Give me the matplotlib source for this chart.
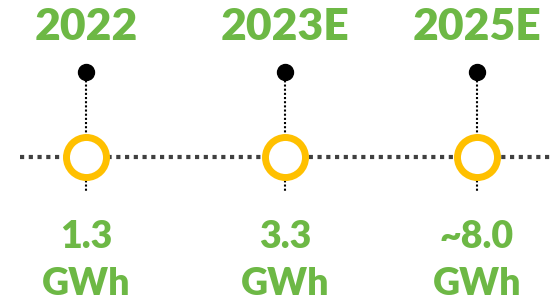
import matplotlib.pyplot as plt

# --- data ---
years = ["2022", "2023E", "2025E"]
values = ["1.3", "3.3", "~8.0"]
unit = "GWh"

green = "#6DB845"
orange = "#FFC000"

fig = plt.figure(figsize=(5.52, 3.03), dpi=100)
ax = fig.add_axes([0, 0, 1, 1])
ax.set_xlim(-0.44, 2.384)
ax.set_ylim(303, 0)
ax.axis("off")

# column layout (slightly uneven in the original)
xs = [0, 1.02, 2.0]
y_dot, y_ring, y_end = 72, 157, 192

# horizontal timeline
ax.plot([-0.34, 2.384], [y_ring, y_ring], color="#404040", lw=3.0,
        linestyle=(0, (1.0, 1.1)), zorder=1)

for x, yr, val in zip(xs, years, values):
    ax.plot([x, x], [y_dot, y_end], color="black", lw=1.5,
            linestyle=(0, (1, 1)), zorder=2)
    ax.scatter([x], [y_dot], s=132, color="black", zorder=3)
    ax.scatter([x], [y_ring], s=830, facecolor="white", edgecolor=orange,
               linewidth=5, zorder=4)
    ax.text(x, 27, yr, ha="center", va="center", color=green,
            fontsize=32, fontweight="heavy", family="Lato")
    ax.text(x, 237, val, ha="center", va="center", color=green,
            fontsize=27, fontweight="heavy", family="Lato")
    ax.text(x, 284, unit, ha="center", va="center", color=green,
            fontsize=27, fontweight="heavy", family="Lato")

fig.savefig("out.png", dpi=100)
